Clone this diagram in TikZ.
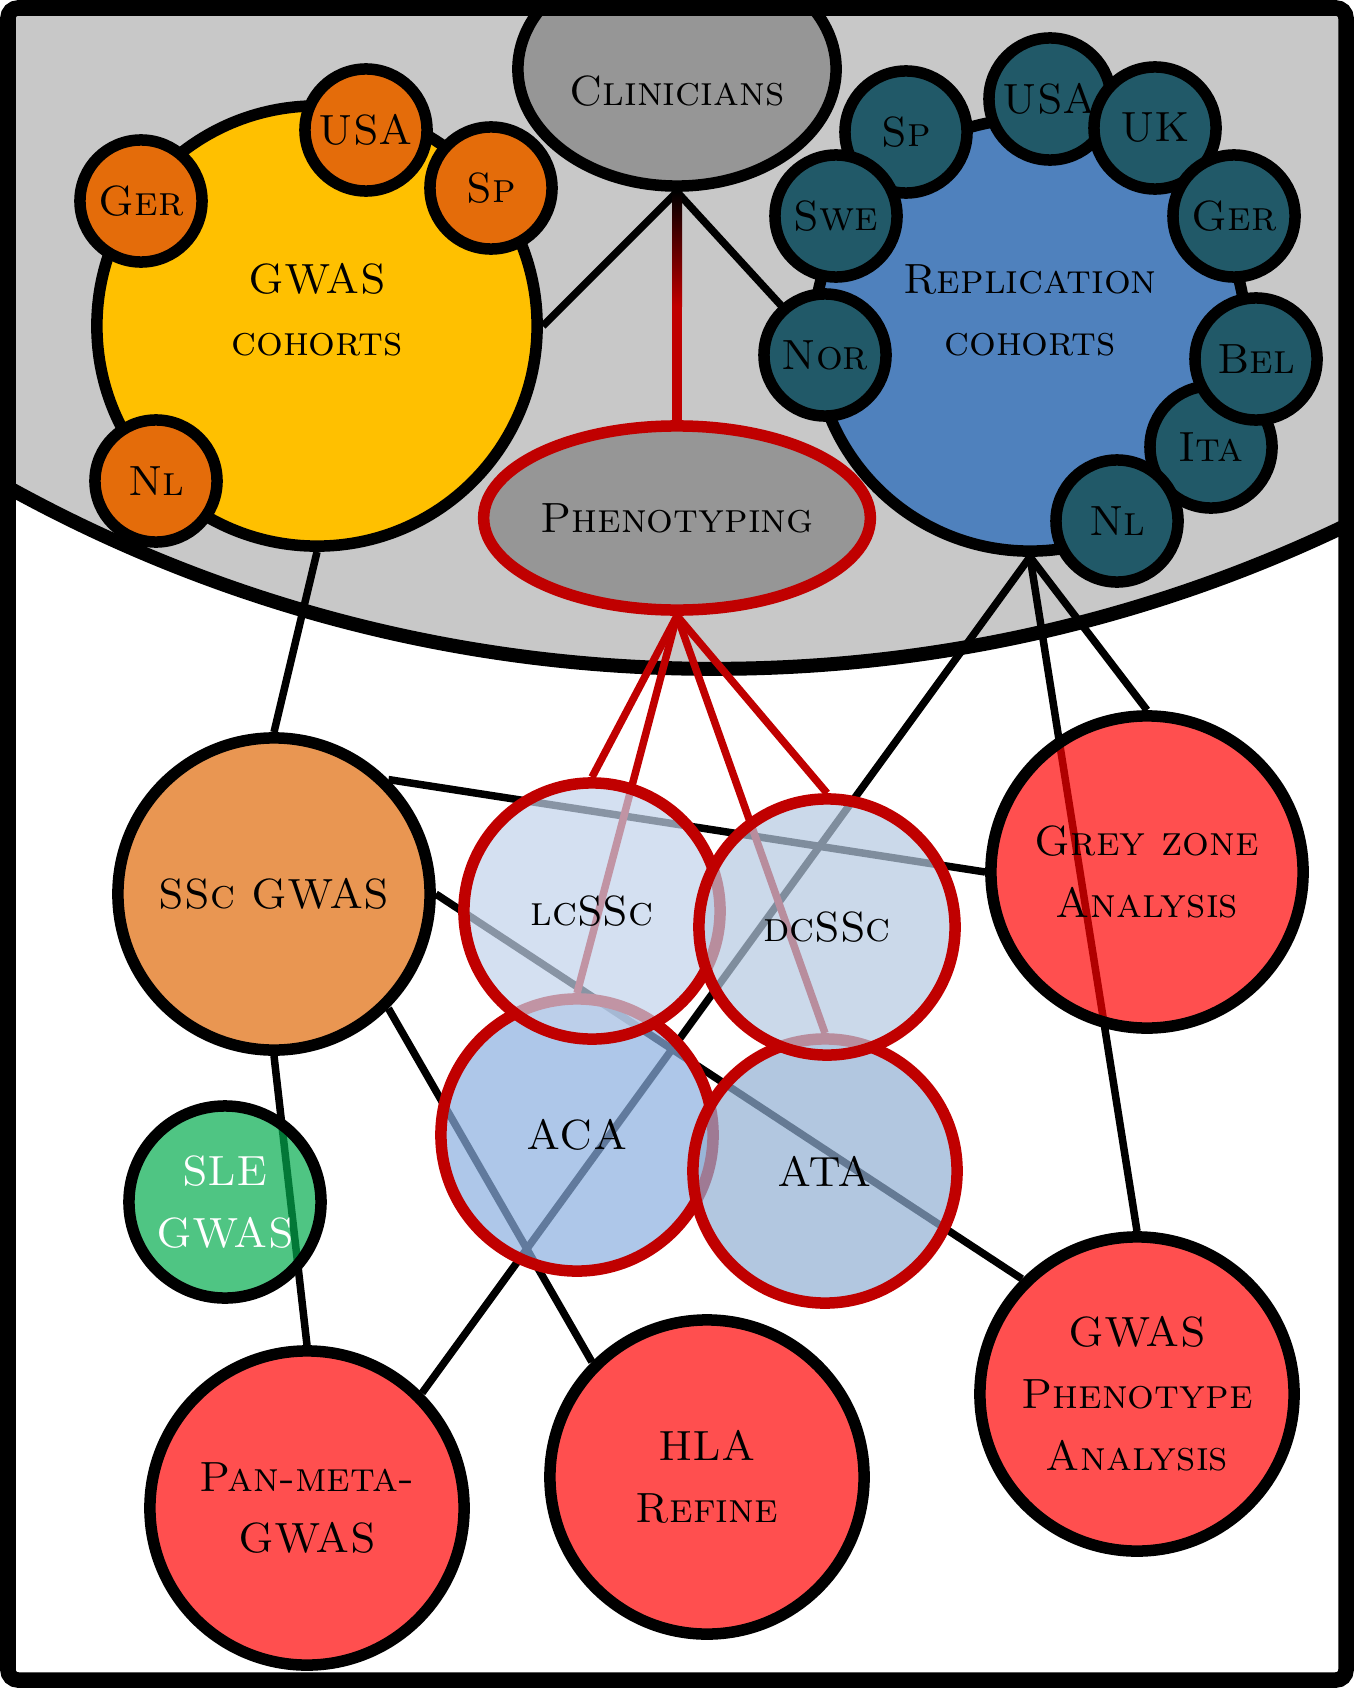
\documentclass[tikz,border=0pt]{standalone}
\usepackage{tikz}
\usepackage{xcolor}
\usetikzlibrary{shapes.geometric, positioning, calc}

\definecolor{bandgray}{RGB}{200,200,200}
\definecolor{clingray}{RGB}{150,150,150}
\definecolor{gwasyellow}{RGB}{255,192,0}
\definecolor{cohortorange}{RGB}{228,108,10}
\definecolor{repblue}{RGB}{79,129,189}
\definecolor{repteal}{RGB}{33,89,104}
\definecolor{phenored}{RGB}{192,0,0}
\definecolor{sscorange}{RGB}{233,150,82}
\definecolor{slegreen}{RGB}{4,172,79}
\definecolor{lcblue}{RGB}{194,211,235}
\definecolor{dcblue}{RGB}{181,201,225}
\definecolor{acablue}{RGB}{139,175,224}
\definecolor{atablue}{RGB}{145,175,211}
\definecolor{outred}{RGB}{255,0,0}

\newcommand{\blobfont}{\fontsize{12}{17.6}\selectfont\scshape}

\pgfdeclarelayer{back}
\pgfsetlayers{back,main}

\tikzset{
  blob/.style={circle, draw=black, line width=0.115cm, inner sep=0pt, align=center, font=\blobfont},
  lbl/.style={align=center, font=\blobfont},
  country/.style={blob, minimum size=1.22cm},
  subset/.style={blob, draw=phenored, fill opacity=0.7, text opacity=1},
  outcome/.style={blob, fill=outred, fill opacity=0.69, text opacity=1, minimum size=3.14cm},
  link/.style={line width=0.075cm},
  redlink/.style={link, draw=phenored},
}

\begin{document}
\begin{tikzpicture}[x=0.01cm, y=-0.01cm]
    \useasboundingbox (0,0) rectangle (1354,1688);

    \begin{scope}
    \clip (8,8) rectangle (1346,1680);

    % cohorts
    \node[blob, fill=gwasyellow, minimum size=4.4cm, label={[lbl, yshift=0.16cm]center:GWAS\\cohorts}] (gwas) at (317,326) {};
    \node[country, fill=cohortorange] (gger) at (141,201) {Ger};
    \node[country, fill=cohortorange] (gusa) at (366,130) {USA};
    \node[country, fill=cohortorange] (gsp) at (491,188) {Sp};
    \node[country, fill=cohortorange] (gnl) at (156,481) {Nl};

    \node[blob, fill=repblue, minimum size=4.32cm, label={[lbl, yshift=0.25cm]center:Replication\\cohorts}] (rep) at (1030,335) {};
    \node[country, fill=repteal] (rsp) at (906,132) {Sp};
    \node[country, fill=repteal] (rswe) at (836,216) {Swe};
    \node[country, fill=repteal] (rnor) at (825,355) {Nor};
    \node[country, fill=repteal] (rusa) at (1050,99) {USA};
    \node[country, fill=repteal] (ruk) at (1155,128) {UK};
    \node[country, fill=repteal] (rger) at (1234,216) {Ger};
    \node[country, fill=repteal] (rita) at (1211,447) {Ita};
    \node[country, fill=repteal] (rbel) at (1256,359) {Bel};
    \node[country, fill=repteal] (rnl) at (1117,521) {Nl};

    \node[blob, ellipse, fill=clingray, minimum width=3.18cm, minimum height=2.34cm, label={[lbl, yshift=-0.22cm]center:Clinicians}] (clin) at (677,69) {};
    \node[blob, ellipse, fill=clingray, draw=phenored, minimum width=3.52cm, minimum height=1.84cm] (pheno) at (677,518) {Phenotyping};

    % analyses
    \node[blob, fill=sscorange, minimum size=3.12cm] (ssc) at (274,894) {SSc GWAS};
    \node[blob, fill=slegreen, fill opacity=0.7, text opacity=1, text=white, minimum size=1.92cm] (sle) at (225,1202) {SLE\\GWAS};

    \node[subset, fill=acablue, minimum size=2.72cm] (aca) at (577,1135) {ACA};
    \node[subset, fill=atablue, minimum size=2.64cm] (ata) at (825,1171) {ATA};
    \node[subset, fill=lcblue, minimum size=2.56cm] (lc) at (592,911) {lcSSc};
    \node[subset, fill=dcblue, minimum size=2.56cm] (dc) at (827,927) {dcSSc};

    \node[outcome, minimum size=3.12cm] (grey) at (1147,872) {Grey zone\\Analysis};
    \node[outcome] (gp) at (1137,1394) {GWAS\\Phenotype\\Analysis};
    \node[outcome] (pan) at (307,1508) {Pan-meta-\\GWAS};
    \node[outcome] (hla) at (707,1477) {HLA\\Refine};
    \end{scope}

    \begin{pgfonlayer}{back}
    \clip (8,8) rectangle (1346,1680);
    \fill[bandgray] (714,-793) circle[radius=14.61cm];
    \draw[line width=0.14cm] (714,-793) circle[radius=14.61cm];

    \draw[link] (clin.south) -- (gwas.east);
    \draw[link] (clin.south) -- (rep.west);
    \path (clin.south) -- (pheno.north) coordinate[pos=0.5] (fade);
    \shade[top color=black, bottom color=phenored] ($(clin.south)+(-5,0)$) rectangle ($(fade)+(5,0)$);
    \draw[redlink, line width=0.1cm] (fade) -- (pheno.north);

    \draw[link] (gwas.south) -- (ssc.north);
    \draw[link] (rep.south) -- (grey.north);
    \draw[link] (rep.south) -- (gp.north);
    \draw[link] (rep.south) -- (pan.north east);
    \draw[link] (ssc.north east) -- (grey.west);
    \draw[link] (ssc.east) -- (gp.north west);
    \draw[link] (ssc.south east) -- (hla.north west);
    \draw[link] (ssc.south) -- (pan.north);

    \foreach \sub in {lc, aca, dc, ata}
        \draw[redlink] (pheno.south) -- (\sub.north);
    \end{pgfonlayer}

    \draw[line width=0.155cm, rounded corners=0.1cm] (8,8) rectangle (1346,1680);
\end{tikzpicture}
\end{document}
